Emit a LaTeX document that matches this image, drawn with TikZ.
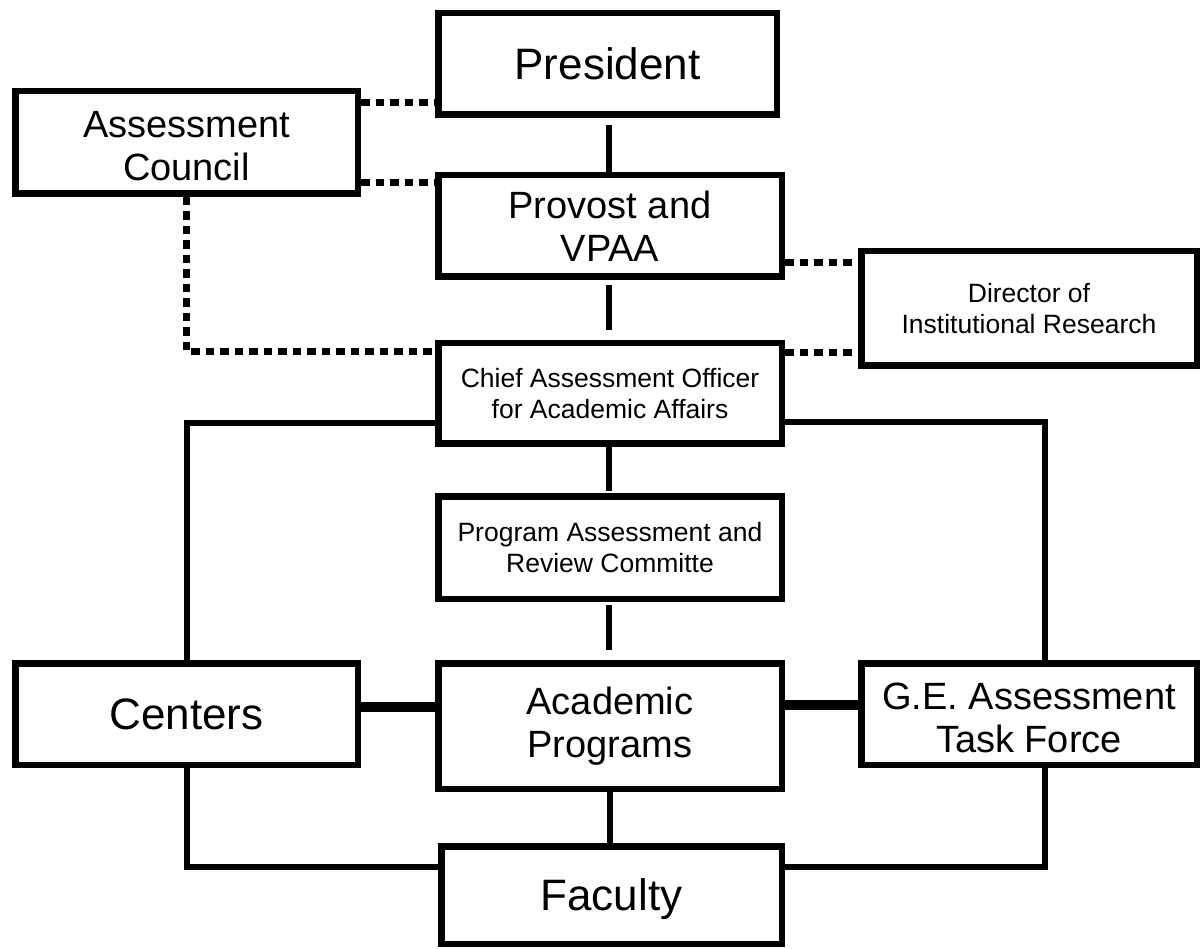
\documentclass[tikz,border=0pt]{standalone}
\usepackage{fontspec}
\setmainfont{Liberation Sans}
\begin{document}
\begin{tikzpicture}[x=1pt,y=-1pt,
  box/.style={draw, line width=6.5pt, inner sep=0pt, align=center},
  bigtxt/.style={font=\fontsize{44}{50}\selectfont, text height=31.5pt, text depth=0pt},
  midtxt/.style={font=\fontsize{38}{43}\selectfont},
  smalltxt/.style={font=\fontsize{26.5}{30.5}\selectfont},
  solidline/.style={draw, line width=6pt},
  thickline/.style={draw, line width=9.5pt},
  dotline/.style={draw, line width=7pt, dash pattern=on 8.5pt off 6pt}
]
\useasboundingbox (0,0) rectangle (1200,949);
% boxes
\node[box,bigtxt, minimum width=338.5pt, minimum height=101.5pt] (pres) at (607.5,64) {President};
\node[box,midtxt, minimum width=342.5pt, minimum height=102.5pt] (ac) at (186.5,142.5) {\rule{0pt}{34pt}Assessment\\Council};
\node[box,midtxt, minimum width=343.5pt, minimum height=101.5pt] (prov) at (610,226) {Provost and\\VPAA};
\node[box,smalltxt, minimum width=335.5pt, minimum height=114.5pt] (dir) at (1029,308.5) {Director of\\Institutional Research};
\node[box,smalltxt, minimum width=343.5pt, minimum height=100.5pt] (chief) at (610,393.5) {Chief Assessment Officer\\for Academic Affairs};
\node[box,smalltxt, minimum width=343.5pt, minimum height=102.5pt] (prog) at (610,547.5) {Program Assessment and\\Review Committe};
\node[box,bigtxt, minimum width=342.5pt, minimum height=101.5pt] (centers) at (186.5,714) {Centers};
\node[box,midtxt, minimum width=343.5pt, minimum height=125.5pt] (acad) at (610,726) {Academic\\Programs};
\node[box,midtxt, minimum width=335.5pt, minimum height=101.5pt] (ge) at (1029,714) {\rule{0pt}{34pt}G.E. Assessment\\Task Force};
\node[box,bigtxt, minimum width=340.5pt, minimum height=97.5pt] (fac) at (611.5,895) {Faculty};
% vertical solid connectors
\draw[solidline, shorten <=7pt] (pres.south -| 609,0) -- (prov.north -| 609,0);
\draw[solidline, shorten <=5pt, shorten >=10pt] (prov.south -| 609,0) -- (chief.north -| 609,0);
\draw[solidline, shorten >=2pt] (chief.south -| 609,0) -- (prog.north -| 609,0);
\draw[solidline, shorten <=3pt, shorten >=10pt] (prog.south -| 609,0) -- (acad.north -| 609,0);
\draw[solidline] (acad.south -| 610,0) -- (fac.north -| 610,0);
% dotted connectors
\draw[dotline] (ac.east |- 0,103) -- (pres.west |- 0,103);
\draw[dotline] (ac.east |- 0,183) -- (prov.west |- 0,183);
\draw[dotline] (ac.south) |- (chief.west |- 0,352);
\draw[dotline] (prov.east |- 0,263) -- (dir.west |- 0,263);
\draw[dotline] (chief.east |- 0,353) -- (dir.west |- 0,353);
% side solid connectors
\draw[solidline] (chief.west |- 0,423) -| (centers.north);
\draw[solidline] (chief.east |- 0,422) -| ([xshift=16pt]ge.north);
\draw[solidline] (centers.south) |- (fac.west |- 0,867);
\draw[solidline] ([xshift=16pt]ge.south) |- (fac.east |- 0,867);
% thick horizontal connectors
\draw[thickline] (centers.east |- 0,707) -- (acad.west |- 0,707);
\draw[thickline] (acad.east |- 0,705) -- (ge.west |- 0,705);
\end{tikzpicture}
\end{document}
